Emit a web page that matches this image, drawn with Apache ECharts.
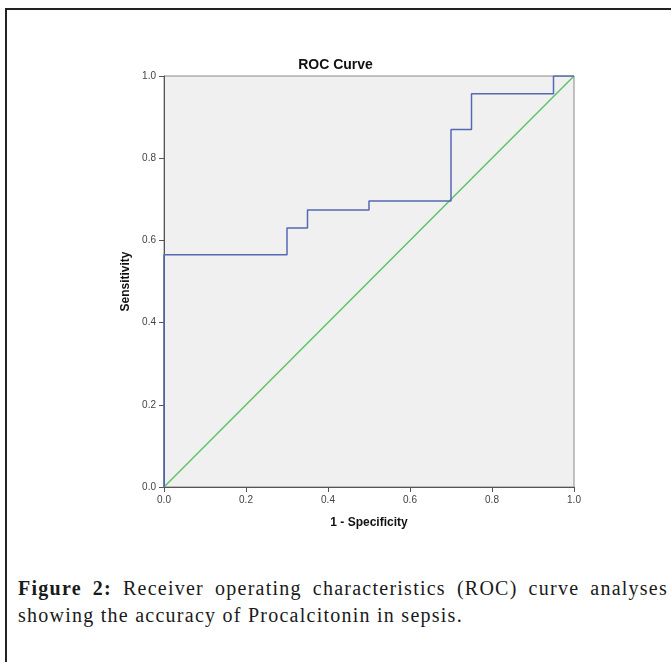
<!DOCTYPE html>
<html>
<head>
<meta charset="utf-8"/>
<title>ROC Curve</title>
<script src="https://cdn.jsdelivr.net/npm/echarts@6/dist/echarts.min.js"></script>
<style>
  body { margin:0; background:#fff; }
  #frame { position:absolute; left:5px; top:8px; width:700px; height:700px; border-left:2px solid #222; border-top:2px solid #222; box-sizing:border-box; }
  #main { position:absolute; left:0; top:0; width:671px; height:560px; }
  .cap { position:absolute; left:18px; width:650px; font-family:"Liberation Serif","DejaVu Serif",serif; font-size:20px; letter-spacing:1.25px; color:#1a1a1a; white-space:nowrap; }
  #cap1 { top:577px; text-align:justify; text-align-last:justify; }
  #cap2 { top:604px; text-align:left; }
</style>
</head>
<body>
<div id="frame"></div>
<div id="main"></div>
<div class="cap" id="cap1"><b>Figure 2:</b> Receiver operating characteristics (ROC) curve analyses</div>
<div class="cap" id="cap2">showing the accuracy of Procalcitonin in sepsis.</div>
<script type="text/javascript">
// ROC points (1 - specificity, sensitivity)
var fpr = [0, 0, 0.30, 0.35, 0.50, 0.70, 0.75, 0.95, 1.0];
var tpr = [0, 0.565, 0.630, 0.674, 0.696, 0.870, 0.957, 1.0, 1.0];
var refX = [0, 1];
var refY = [0, 1];

var rocData = fpr.map(function (x, i) { return [x, tpr[i]]; });
var refData = refX.map(function (x, i) { return [x, refY[i]]; });

var myChart = echarts.init(document.getElementById('main'));
var axisLbl = { color:'#444', fontSize:10, fontFamily:'Arial', formatter:function(v){ return v.toFixed(1); } };
var option = {
  animation:false,
  title: { text:'ROC Curve', left:'center', top:53, textStyle:{ fontSize:14, fontWeight:'bold', color:'#111', fontFamily:'Arial' } },
  grid: { left:164, top:76, width:410, height:411, show:true, backgroundColor:'#f0f0f0', borderColor:'#888', borderWidth:1 },
  xAxis: {
    type:'value', min:0, max:1, interval:0.2,
    name:'1 - Specificity', nameLocation:'middle', nameGap:30,
    nameTextStyle:{ fontSize:12, fontWeight:'bold', color:'#111', fontFamily:'Arial' },
    axisLine:{ show:true, lineStyle:{ color:'#555' } },
    axisTick:{ show:true, length:5, lineStyle:{ color:'#555' } },
    axisLabel: axisLbl,
    splitLine:{ show:false }
  },
  yAxis: {
    type:'value', min:0, max:1, interval:0.2,
    name:'Sensitivity', nameLocation:'middle', nameGap:32,
    nameTextStyle:{ fontSize:12, fontWeight:'bold', color:'#111', fontFamily:'Arial' },
    axisLine:{ show:true, lineStyle:{ color:'#555' } },
    axisTick:{ show:true, length:5, lineStyle:{ color:'#555' } },
    axisLabel: axisLbl,
    splitLine:{ show:false }
  },
  series: [
    { type:'line', data:refData, symbol:'none', lineStyle:{ color:'#5cc46a', width:1.5 }, z:2 },
    { type:'line', data:rocData, step:'end', symbol:'none', lineStyle:{ color:'#5468b4', width:1.5 }, z:3 }
  ]
};
myChart.setOption(option);
</script>
</body>
</html>
